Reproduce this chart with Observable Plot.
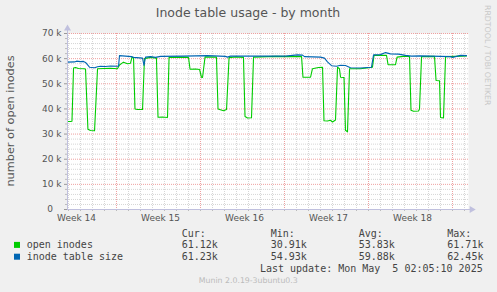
<!DOCTYPE html>
<html><head><meta charset="utf-8">
<script src="https://cdn.jsdelivr.net/npm/d3@7"></script>
<script src="https://cdn.jsdelivr.net/npm/@observablehq/plot@0.6"></script>
<style>
html,body{margin:0;padding:0;background:#f0f0f0;}
#chart{width:497px;height:292px;overflow:hidden;}
</style></head><body><div id="chart"></div>
<script>
const title = "Inode table usage - by month";
const yLabel = "number of open inodes";
const watermark = "RRDTOOL / TOBI OETIKER";
const footer = "Munin 2.0.19-3ubuntu0.3";
const lastUpdate = "Last update: Mon May  5 02:05:10 2025";

// x in days since start of Week 15
const xDomain = [-4.083, 29.333];
const weekLabels = ["Week 14", "Week 15", "Week 16", "Week 17", "Week 18"];
const weekLabelDays = [-3.33, 3.67, 10.67, 17.67, 24.67];
const weekStartDays = [0, 7, 14, 21, 28];
const yTicks = [0, 10, 20, 30, 40, 50, 60, 70]; // thousands

const seriesNames = ["open inodes", "inode table size"];
const seriesColors = ["#00cc00", "#0066b3"];
const statHeaders = ["Cur:", "Min:", "Avg:", "Max:"];
const openStats = ["61.12k", "30.91k", "53.83k", "61.71k"];
const sizeStats = ["61.23k", "54.93k", "59.88k", "62.45k"];

// open inodes (thousands)
const openDays = [-4.08,-3.83,-3.71,-3.58,-3.42,-3.17,-2.67,-2.58,-2.38,-2.17,-1.83,-1.58,-0.5,0.08,0.25,0.58,0.92,1.17,1.29,1.42,1.54,1.75,2.17,2.33,2.83,3.33,3.46,3.83,4.25,4.38,5.33,6.0,6.13,6.58,6.92,7.08,7.17,7.38,8.33,8.46,8.92,9.17,9.38,9.92,10.58,10.71,10.92,11.25,11.42,13.25,15.42,15.54,16.17,16.33,16.83,17.17,17.29,17.58,17.83,18.0,18.25,18.42,18.58,18.67,18.96,19.08,19.25,19.42,20.33,21.33,21.46,22.5,22.63,23.25,23.38,24.08,24.42,24.54,24.75,25.17,25.25,25.42,26.5,26.63,26.92,27.0,27.25,27.42,28.25,29.17];
const openValues = [35.0,35.0,35.1,56.3,56.5,56.1,56.0,55.8,31.9,31.4,31.3,56.0,56.2,56.0,57.5,58.6,58.0,58.2,60.6,60.3,40.0,39.8,39.8,60.0,60.5,60.2,36.7,36.8,36.6,60.5,60.6,60.5,55.8,55.9,55.7,52.6,52.5,60.7,60.6,40.0,39.3,39.8,60.4,60.7,60.5,37.0,36.4,36.5,60.6,60.9,60.8,52.6,52.6,56.0,56.5,56.6,35.3,35.2,35.5,34.8,35.6,56.6,56.0,52.6,52.5,31.5,30.9,56.0,56.0,56.6,61.3,61.3,57.6,57.6,60.6,61.0,60.8,39.5,39.1,39.2,40.0,60.8,60.9,51.3,51.2,36.6,36.4,60.8,60.9,61.1];

// inode table size (thousands)
const sizeDays = [-4.08,-3.5,-3.33,-3.0,-2.75,-2.58,-2.25,-1.83,-1.58,-1.33,-0.92,-0.5,0.17,0.25,0.75,1.25,1.42,2.17,2.29,2.42,2.83,3.25,3.67,5.58,7.58,9.08,9.25,9.5,14.08,15.08,15.5,15.67,17.0,17.33,17.58,17.92,18.33,18.67,19.08,19.5,20.33,21.25,21.42,22.0,22.42,22.83,23.5,24.08,24.58,25.33,26.17,27.83,28.0,28.25,28.67,29.17];
const sizeValues = [58.6,58.7,59.0,58.8,58.9,58.5,56.6,56.4,56.8,57.0,56.9,57.1,57.0,61.2,61.0,60.8,60.5,60.2,57.3,60.6,60.8,60.5,60.9,61.0,61.2,60.9,60.6,61.0,61.0,61.5,61.4,60.8,60.6,60.2,58.7,57.2,57.0,57.4,57.3,56.4,56.3,56.6,61.5,61.6,62.4,61.9,61.8,61.3,61.0,61.1,61.0,60.8,60.5,60.8,61.3,61.2];

const openData = openDays.map((d, i) => ({day: d, v: openValues[i]}));
const sizeData = sizeDays.map((d, i) => ({day: d, v: sizeValues[i]}));
const minorY = d3.range(2, 70, 2).filter(v => v % 10 !== 0);
const majorY = yTicks.filter(v => v > 0);
const allDays = d3.range(-4, 30);
const minorX = allDays.filter(d => d % 7 !== 0);
const axisColor = "#c0c0de";

const svg = Plot.plot({
  width: 497, height: 292,
  marginLeft: 67, marginRight: 29, marginTop: 33, marginBottom: 83,
  style: {background: "transparent", fontFamily: "DejaVu Sans", fontSize: "9px", color: "#555"},
  x: {domain: xDomain, axis: null},
  y: {domain: [0, 70], axis: null},
  marks: [
    Plot.frame({fill: "white", stroke: null}),
    Plot.ruleY(minorY, {stroke: "#d6d6d6", strokeDasharray: "1,1"}),
    Plot.ruleX(minorX, {stroke: "#d6d6d6", strokeDasharray: "1,1"}),
    Plot.ruleY(majorY, {stroke: "#eea0a0", strokeDasharray: "1,1"}),
    Plot.ruleX(weekStartDays, {stroke: "#eea0a0", strokeDasharray: "1,1"}),
    Plot.line(openData, {x: "day", y: "v", stroke: seriesColors[0], strokeWidth: 1.1}),
    Plot.line(sizeData, {x: "day", y: "v", stroke: seriesColors[1], strokeWidth: 1.1}),
    Plot.axisY(yTicks, {tickSize: 3, tickPadding: 3, stroke: "#999", fill: "#555", label: null,
      tickFormat: d => d === 0 ? "0\u2007\u00a0" : `${d} k`}),
    Plot.axisY(minorY, {tickSize: 2, stroke: "#bbb", text: null, label: null}),
    Plot.axisX(weekLabelDays, {tickSize: 0, tickPadding: 5, fill: "#555", label: null,
      tickFormat: (d, i) => weekLabels[i]}),
    Plot.axisX(allDays, {tickSize: 2, stroke: "#bbb", text: null, label: null}),
    Plot.ruleX([xDomain[0]], {y1: 0, y2: 72, stroke: axisColor}),
    Plot.ruleY([0], {x1: xDomain[0], x2: 29.6, stroke: axisColor}),
    Plot.dot([{day: xDomain[0], v: 72}], {x: "day", y: "v", symbol: "triangle", r: 2.6, fill: axisColor, stroke: null}),
    Plot.dot([{day: 29.6, v: 0}], {x: "day", y: "v", symbol: "triangle", r: 2.6, rotate: 90, fill: axisColor, stroke: null})
  ]
});
document.getElementById("chart").appendChild(svg);

const s = d3.select(svg);
s.append("text").attr("x", 248).attr("y", 17).attr("text-anchor", "middle")
  .attr("font-family", "DejaVu Sans").attr("font-size", 12.5).attr("fill", "#555").text(title);
s.append("text").attr("transform", "translate(13.5,121) rotate(-90)").attr("text-anchor", "middle")
  .attr("font-family", "DejaVu Sans").attr("font-size", 11.3).attr("fill", "#555").text(yLabel);
s.append("text").attr("transform", "translate(485,5) rotate(90)").attr("text-anchor", "start")
  .attr("font-family", "DejaVu Sans").attr("font-size", 7.8).attr("fill", "#c8c8c8").text(watermark);

const mono = "DejaVu Sans Mono";
const colX = [181.7, 270.7, 358.7, 447.3];
const rowY = [248.4, 260.2];
statHeaders.forEach((h, i) => s.append("text").attr("x", colX[i]).attr("y", 236.5).attr("text-anchor", "start")
  .attr("font-family", mono).attr("font-size", 10).attr("fill", "#444").text(h));
[openStats, sizeStats].forEach((stats, r) => {
  s.append("rect").attr("x", 14).attr("y", rowY[r] - 6.5).attr("width", 6).attr("height", 6).attr("fill", seriesColors[r]);
  s.append("text").attr("x", 26.7).attr("y", rowY[r]).attr("text-anchor", "start").attr("font-family", mono).attr("font-size", 10)
    .attr("fill", "#444").text(seriesNames[r]);
  stats.forEach((v, i) => s.append("text").attr("x", colX[i]).attr("y", rowY[r]).attr("text-anchor", "start")
    .attr("font-family", mono).attr("font-size", 10).attr("fill", "#444").text(v));
});
s.append("text").attr("x", 482.7).attr("y", 272).attr("text-anchor", "end").attr("xml:space", "preserve")
  .style("white-space", "pre").attr("font-family", mono).attr("font-size", 10).attr("fill", "#444").text(lastUpdate);
s.append("text").attr("x", 248.3).attr("y", 283.4).attr("text-anchor", "middle")
  .attr("font-family", "DejaVu Sans").attr("font-size", 7.8).attr("fill", "#bbb").text(footer);
</script></body></html>
